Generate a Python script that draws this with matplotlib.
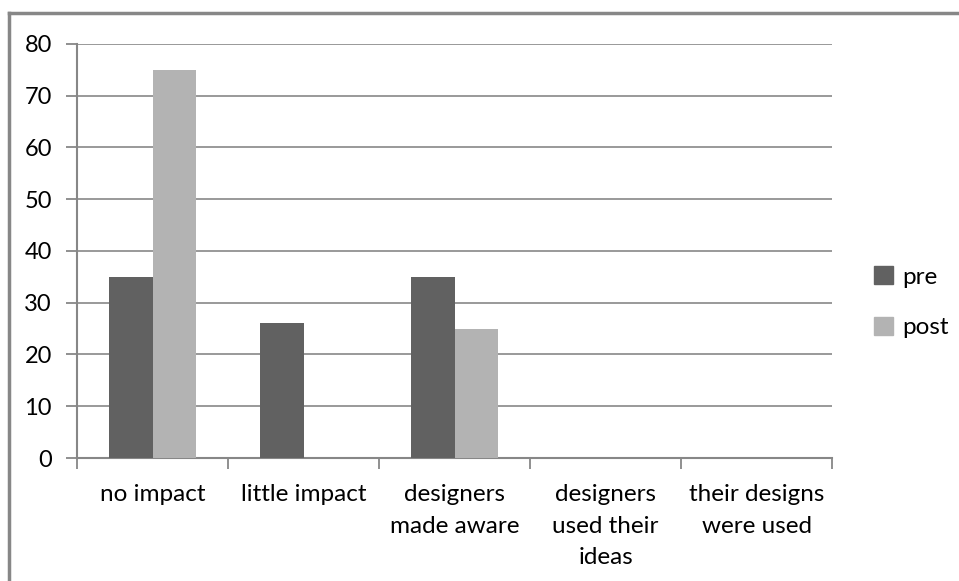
import matplotlib.pyplot as plt
import numpy as np
from matplotlib.lines import Line2D
from matplotlib.patches import Patch

categories = ["no impact", "little impact", "designers\nmade aware",
              "designers\nused their\nideas", "their designs\nwere used"]
pre = [35, 26, 35, 0, 0]
post = [75, 0, 25, 0, 0]
series_names = ["pre", "post"]
y_ticks = [0, 10, 20, 30, 40, 50, 60, 70, 80]

PRE_COLOR = "#616161"
POST_COLOR = "#b3b3b3"
GRID_COLOR = "#878787"

plt.rcParams["font.family"] = ["Lato", "DejaVu Sans"]

fig = plt.figure(figsize=(9.59, 5.81), dpi=100)
ax = fig.add_axes([0.0803, 0.2117, 0.7873, 0.7126])

x = np.arange(len(categories))
width = 1 / 3.5
ax.bar(x - width / 2, pre, width, color=PRE_COLOR, zorder=3)
ax.bar(x + width / 2, post, width, color=POST_COLOR, zorder=3)

ax.set_xlim(-0.5, len(categories) - 0.5)
ax.set_ylim(0, 80)
ax.set_yticks(y_ticks)
ax.yaxis.grid(True, color=GRID_COLOR, linewidth=1.2, zorder=0)

ax.set_xticks(np.arange(-0.5, len(categories)), minor=False)
ax.set_xticklabels([])
ax.set_xticks(x, minor=True)
ax.set_xticklabels(categories, minor=True, fontsize=17.5, color="#000000",
                   linespacing=1.6)
ax.tick_params(axis="x", which="minor", length=0, pad=19)
ax.tick_params(axis="x", which="major", length=8, width=1.3, color=GRID_COLOR)
ax.tick_params(axis="y", length=8, width=1.3, color=GRID_COLOR,
               labelsize=17, pad=10)

for side in ["top", "right"]:
    ax.spines[side].set_visible(False)
for side in ["left", "bottom"]:
    ax.spines[side].set_color(GRID_COLOR)
    ax.spines[side].set_linewidth(1.5)

handles = [Patch(color=PRE_COLOR), Patch(color=POST_COLOR)]
fig.legend(handles, series_names, loc="center left",
           bbox_to_anchor=(0.889, 0.48), frameon=False, fontsize=17.5,
           handlelength=0.75, handleheight=0.75, handletextpad=0.4,
           labelspacing=1.2)

# outer chart frame (top and left edges visible)
fig.add_artist(Line2D([0.009, 1.0], [0.977, 0.977], color=GRID_COLOR,
                      linewidth=2.5, transform=fig.transFigure))
fig.add_artist(Line2D([0.0095, 0.0095], [0.0, 0.977], color=GRID_COLOR,
                      linewidth=2.5, transform=fig.transFigure))

fig.savefig("out.png", dpi=100)
